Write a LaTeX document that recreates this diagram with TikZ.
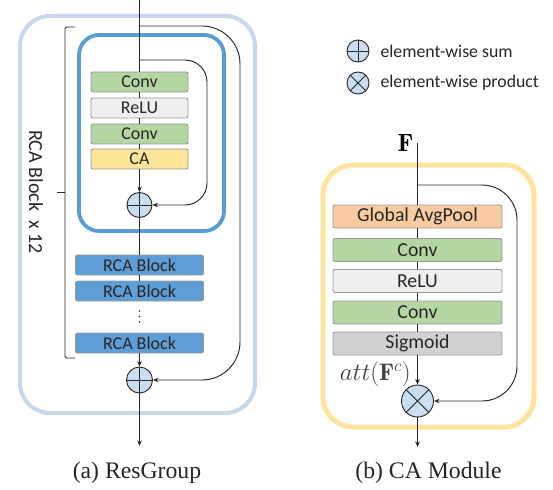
\documentclass[tikz,border=0pt]{standalone}
\usepackage{fontspec}
\setsansfont{Carlito}
\newfontfamily\capfont{Liberation Serif}
\usetikzlibrary{arrows.meta}
\definecolor{outerc}{HTML}{C8D6EE}
\definecolor{innerc}{HTML}{5B9BD5}
\definecolor{yelc}{HTML}{FCE49E}
\definecolor{convc}{HTML}{B3D6A2}
\definecolor{reluc}{HTML}{EEEFEE}
\definecolor{cac}{HTML}{FDE59A}
\definecolor{gapc}{HTML}{F8CBA0}
\definecolor{sigc}{HTML}{D1D1D1}
\definecolor{rcac}{HTML}{5E9DD6}
\definecolor{circc}{HTML}{CADDF1}
\definecolor{txtc}{HTML}{262626}
\begin{document}
\begin{tikzpicture}[x=1pt,y=-1pt,
  ln/.style={line width=0.95pt, draw=black!85},
  arr/.style={ln, -{Stealth[length=5.5pt,width=4.5pt]}},
  blk/.style={draw=black!40, line width=0.9pt, rounded corners=2pt, inner sep=0pt,
    text=txtc, font=\sffamily\fontsize{18}{18}\selectfont},
  lblk/.style={blk, minimum width=97pt, minimum height=20pt},
  rblk/.style={blk, minimum width=128pt, minimum height=20pt},
  cblk/.style={blk, minimum width=169pt, minimum height=23pt, font=\sffamily\fontsize{19.8}{19.8}\selectfont},
  opc/.style={circle, draw=black!85, fill=circc, line width=0.9pt, inner sep=0pt},
  legtxt/.style={anchor=west, text=txtc, font=\sffamily\fontsize{17.8}{17.8}\selectfont},
  captxt/.style={font=\capfont\fontsize{23.7}{23.7}\selectfont, text=txtc}
]
\useasboundingbox (0,0) rectangle (553,489);
% ---------- (a) ResGroup ----------
\draw[outerc, line width=4pt, rounded corners=30pt] (20,16) rectangle (255,413);
\draw[innerc, line width=3.8pt, rounded corners=20pt] (79,35) rectangle (224,231);
\coordinate (topA) at (139.5,0);
\coordinate (brO) at (139.5,26);
\coordinate (brI) at (139.5,60);
\node[lblk, fill=convc] (conv1) at (139.5,82) {Conv};
\node[lblk, fill=reluc] (relu1) at (139.5,108) {ReLU};
\node[lblk, fill=convc] (conv2) at (139.5,134) {Conv};
\node[lblk, fill=cac] (ca) at (139.5,159) {CA};
\node[opc, minimum size=25pt] (plus1) at (139.5,205) {};
\node[rblk, fill=rcac] (rca1) at (139.5,265) {RCA Block};
\node[rblk, fill=rcac] (rca2) at (139.5,291) {RCA Block};
\node[rblk, fill=rcac] (rca3) at (139.5,343) {RCA Block};
\fill[black!85] (139.5,311) circle (0.9pt) (139.5,316.5) circle (0.9pt) (139.5,322) circle (0.9pt);
\node[opc, minimum size=26pt] (plus2) at (139.5,380) {};
\coordinate (outA) at (139.5,446);
\draw[ln] (topA) -- (conv1);
\draw[ln] (conv1) -- (relu1);
\draw[ln] (relu1) -- (conv2);
\draw[ln] (conv2) -- (ca);
\draw[arr] (ca) -- (plus1);
\draw[ln] (plus1) -- (rca1);
\draw[ln] (rca1) -- (rca2);
\draw[arr] (rca3) -- (plus2);
\draw[arr] (plus2) -- (outA);
\draw[ln] (plus1.north) -- (plus1.south) (plus1.west) -- (plus1.east);
\draw[ln] (plus2.north) -- (plus2.south) (plus2.west) -- (plus2.east);
\draw[arr, rounded corners=22pt] (brI) -- (207,60) -- (207,205) -- (plus1.east);
\draw[arr, rounded corners=38pt] (brO) -- (240,26) -- (240,380) -- (plus2.east);
% bracket
\draw[line width=0.8pt, draw=black!85, rounded corners=1.5pt] (75,27) -- (65,27) -- (65,358) -- (75,358);
\draw[line width=0.8pt, draw=black!85] (65,192) -- (57,192);
\node[rotate=-90, text=txtc, font=\sffamily\fontsize{20}{20}\selectfont] (rlbl) at (36,192) {RCA Block\ \ x 12};
\node[captxt] (capA) at (137,473) {(a) ResGroup};
% ---------- legend ----------
\node[opc, minimum size=22pt] (lsum) at (358,51) {};
\draw[ln] (lsum.north) -- (lsum.south) (lsum.west) -- (lsum.east);
\node[legtxt] (lsumt) at (377,51) {element-wise sum};
\node[opc, minimum size=22pt] (lprod) at (358,83) {};
\draw[ln] (lprod.north west) -- (lprod.south east) (lprod.north east) -- (lprod.south west);
\node[legtxt] (lprodt) at (377,83) {element-wise product};
% ---------- (b) CA Module ----------
\draw[yelc, line width=5pt, rounded corners=30pt] (323,165) rectangle (534,427);
\node[inner sep=0pt, font=\fontsize{25}{25}\selectfont] (Flbl) at (405.5,143) {$\mathbf{F}$};
\coordinate (fin) at (417.5,143);
\coordinate (brC) at (417.5,185);
\node[cblk, fill=gapc] (gap) at (417.5,216.5) {Global AvgPool};
\node[cblk, fill=convc] (cconv1) at (417.5,250) {Conv};
\node[cblk, fill=reluc] (crelu) at (417.5,281) {ReLU};
\node[cblk, fill=convc] (cconv2) at (417.5,312.5) {Conv};
\node[cblk, fill=sigc] (sig) at (417.5,343.5) {Sigmoid};
\node[opc, minimum size=32pt] (prod) at (417.5,401) {};
\coordinate (outB) at (417.5,447);
\draw[ln] (fin) -- (gap);
\draw[ln] (gap) -- (cconv1);
\draw[ln] (cconv1) -- (crelu);
\draw[ln] (crelu) -- (cconv2);
\draw[ln] (cconv2) -- (sig);
\draw[arr] (sig) -- (prod);
\draw[arr] (prod) -- (outB);
\draw[ln] (prod.north west) -- (prod.south east) (prod.north east) -- (prod.south west);
\draw[arr, rounded corners=35pt] (brC) -- (517,185) -- (517,401) -- (prod.east);
\node[anchor=east, inner sep=0pt, text=black!75, font=\fontsize{24}{24}\selectfont] (attl) at (411,374) {$att(\mathbf{F}^c)$};
\node[captxt] (capB) at (428.5,473) {(b) CA Module};
\end{tikzpicture}
\end{document}
